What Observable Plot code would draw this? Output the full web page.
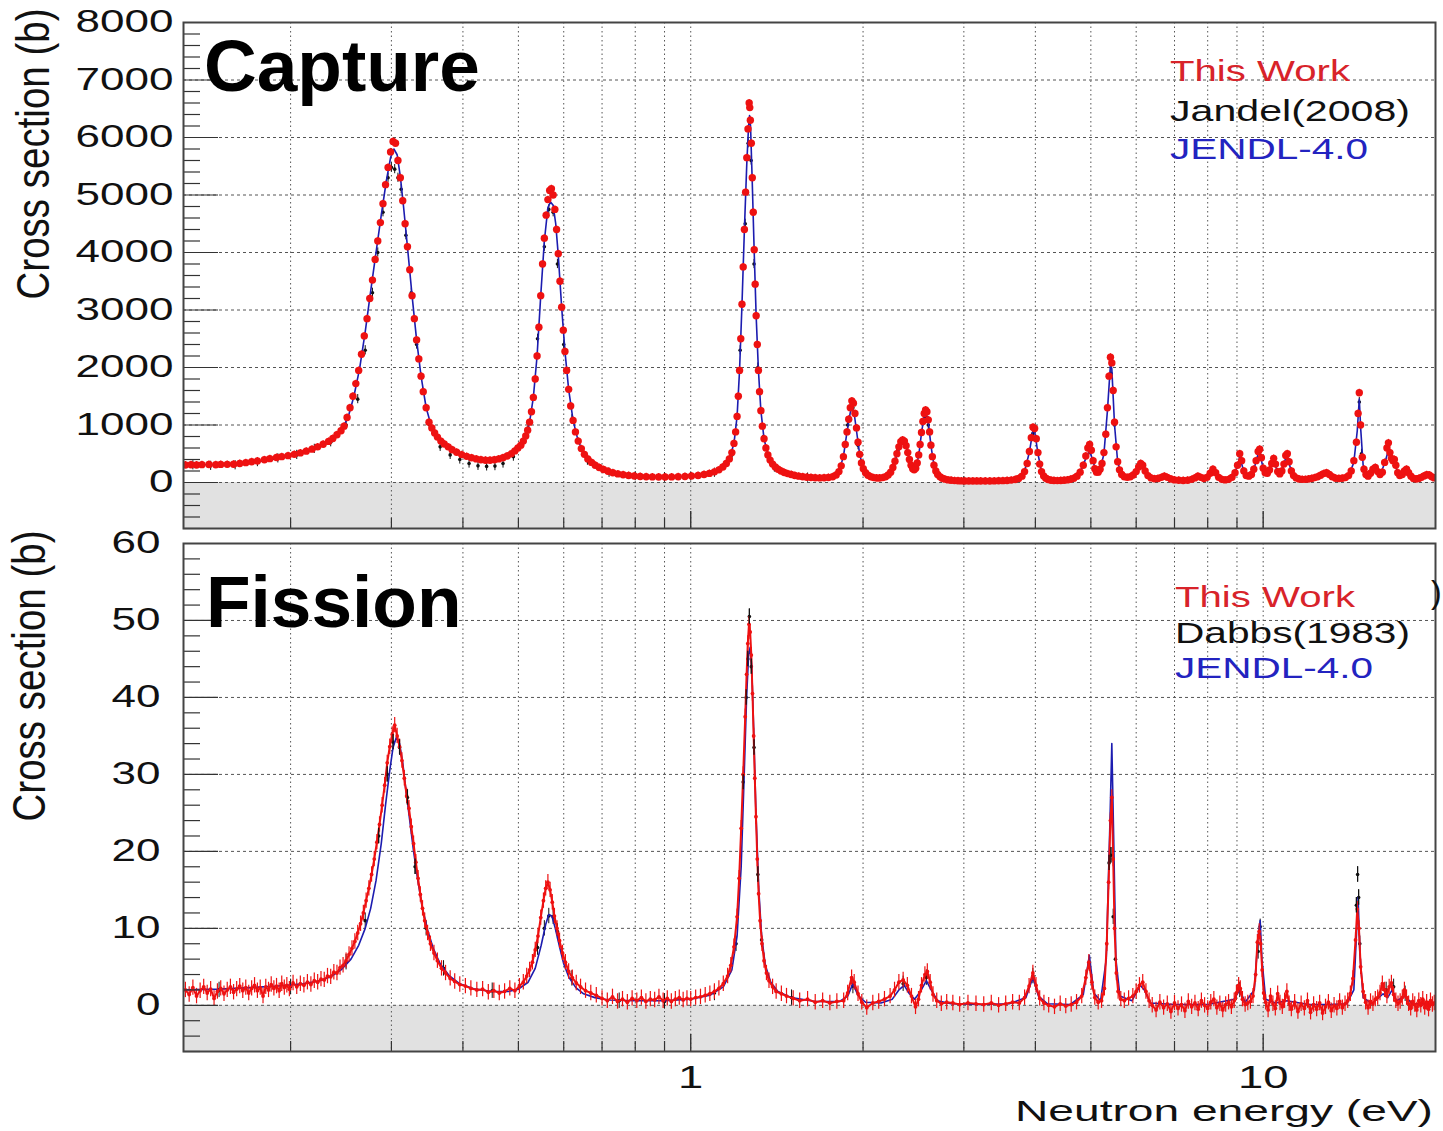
<!DOCTYPE html>
<html>
<head>
<meta charset="utf-8">
<script src="https://cdn.jsdelivr.net/npm/d3@7"></script>
<script src="https://cdn.jsdelivr.net/npm/@observablehq/plot@0.6"></script>
<style>
  html, body { margin: 0; padding: 0; background: #fff; }
  #wrap { position: relative; width: 1443px; height: 1131px; overflow: hidden; background: #fff; }
  #top, #bottom { position: absolute; left: 0; }
  #top { top: 0; }
  #bottom { top: 530px; }
  #overlay { position: absolute; left: 0; top: 0; pointer-events: none; }
</style>
</head>
<body>
<div id="wrap">
  <div id="top"></div>
  <div id="bottom"></div>
  <svg id="overlay" width="1443" height="1131"></svg>
</div>
<script>
// ---------------- axis / tick values ----------------
const xDomain = [0.13, 20];
const xGrid = [0.2, 0.3, 0.4, 0.5, 0.6, 0.7, 0.8, 0.9, 1, 2, 3, 4, 5, 6, 7, 8, 9, 10];
const xMajor = [1, 10];
const xMinor = [0.2, 0.3, 0.4, 0.5, 0.6, 0.7, 0.8, 0.9, 2, 3, 4, 5, 6, 7, 8, 9];
const xLabels = [1, 10];

const capDomain = [-800, 8000];
const capMajor = [0, 1000, 2000, 3000, 4000, 5000, 6000, 7000, 8000];
const capMinor = d3.range(-800, 8000, 200).filter(v => v % 1000 !== 0);
const capGrid = [0, 1000, 2000, 3000, 4000, 5000, 6000, 7000];

const fisDomain = [-6, 60];
const fisMajor = [0, 10, 20, 30, 40, 50, 60];
const fisMinor = d3.range(-6, 60, 2).filter(v => v % 10 !== 0);
const fisGrid = [0, 10, 20, 30, 40, 50];

// ---------------- Capture: This Work [E (eV), sigma (b)] ----------------
const capWork = [[0.131,305],[0.134,308],[0.137,304],[0.140,310],[0.144,312],[0.148,309],[0.151,315],[0.155,316],[0.159,318],[0.163,330],[0.167,345],[0.171,360],[0.175,375],[0.180,395],[0.184,415],[0.189,435],[0.193,450],[0.198,467],
[0.203,490],[0.208,515],[0.213,545],[0.218,580],[0.223,620],[0.228,665],[0.233,715],[0.237,765],[0.241,830],[0.245,900],[0.248,980],[0.251,1130],
[0.254,1300],[0.257,1500],[0.260,1720],[0.263,1950],[0.266,2230],[0.269,2550],[0.272,2850],[0.275,3200],[0.278,3520],[0.281,3880],[0.284,4200],[0.287,4520],[0.290,4850],[0.293,5180],[0.296,5480],[0.299,5750],[0.302,5930],[0.305,5900],[0.308,5600],[0.311,5300],[0.314,4900],[0.317,4500],[0.320,4100],[0.323,3700],[0.326,3250],[0.329,2850],[0.332,2480],[0.335,2150],[0.338,1850],[0.341,1580],[0.345,1300],[0.349,1050],[0.353,950],[0.357,860],[0.361,790],[0.366,720],[0.371,670],[0.377,620],[0.383,570],[0.390,525],[0.398,485],[0.406,455],[0.414,430],[0.422,410],[0.430,395],[0.438,388],[0.446,388],[0.454,395],[0.462,410],[0.470,430],[0.478,460],[0.486,500],[0.493,550],[0.499,600],[0.505,650],[0.510,720],[0.515,810],[0.519,910],[0.523,1050],[0.527,1230],[0.531,1480],[0.535,1800],[0.539,2200],[0.543,2700],[0.547,3250],[0.551,3800],[0.555,4250],[0.559,4650],[0.563,4920],[0.567,5080],[0.571,5110],[0.575,5000],[0.579,4750],[0.583,4400],[0.587,3980],[0.591,3500],[0.595,3050],[0.599,2650],[0.603,2280],[0.607,1950],[0.612,1620],[0.617,1330],[0.623,1080],[0.629,880],[0.636,720],[0.644,590],[0.652,490],[0.661,410],[0.671,350],[0.681,300],[0.692,260],[0.704,225],[0.717,195],[0.731,170],[0.746,150],[0.762,135],[0.779,122],[0.797,112],[0.816,105],[0.836,100],[0.857,97],[0.879,95],[0.902,95],[0.926,97],[0.951,100],[0.977,105],[1.003,112],[1.03,122],[1.055,138],[1.078,158],[1.10,185],[1.12,220],[1.138,270],[1.154,330],[1.168,410],[1.18,520],[1.19,680],[1.198,880],[1.205,1150],[1.211,1500],[1.217,1950],[1.223,2500],[1.229,3100],[1.235,3750],[1.241,4400],[1.247,5050],[1.253,5650],[1.259,6150],[1.265,6600],[1.268,6520],[1.271,6300],[1.276,5900],[1.281,5300],[1.286,4700],[1.291,4050],[1.296,3450],[1.301,2900],[1.307,2400],[1.313,1950],[1.319,1580],[1.326,1250],[1.334,980],[1.343,760],[1.353,600],[1.364,480],[1.376,390],[1.39,320],[1.405,270],[1.421,230],[1.438,200],[1.457,175],[1.477,155],[1.498,138],[1.52,122],[1.544,110],[1.569,100],[1.595,92],[1.622,86],[1.65,82],[1.68,80],[1.71,82],[1.74,88],[1.77,100],[1.795,130],[1.815,190],[1.832,290],[1.848,450],[1.862,660],[1.875,880],[1.888,1100],[1.90,1300],[1.912,1420],[1.924,1380],[1.936,1200],[1.948,950],[1.96,700],[1.973,490],[1.987,340],[2.002,240],[2.02,170],[2.04,125],[2.063,100],[2.087,85],[2.112,78],[2.138,78],[2.165,85],[2.19,100],[2.213,130],[2.235,180],[2.255,260],[2.274,370],[2.292,500],[2.31,620],[2.328,710],[2.345,740],[2.362,720],[2.378,640],[2.394,520],[2.41,400],[2.426,300],[2.442,240],[2.457,220],[2.472,250],[2.487,340],[2.502,480],[2.516,660],[2.53,870],[2.544,1060],[2.558,1200],[2.572,1260],[2.586,1230],[2.60,1090],[2.614,880],[2.628,650],[2.643,450],[2.66,300],[2.68,200],[2.70,140],[2.725,100],[2.75,75],[2.78,58],[2.815,45],[2.85,38],[2.89,33],[2.93,30],[2.97,28],[3.01,27],[3.06,26],[3.11,26],[3.16,25],[3.21,25],[3.27,26],[3.33,27],[3.39,28],[3.45,30],[3.51,32],[3.57,36],[3.63,42],[3.69,52],[3.74,70],[3.79,110],[3.83,190],[3.87,330],[3.905,540],[3.935,780],[3.962,960],[3.988,940],[4.015,760],[4.042,520],[4.07,320],[4.1,190],[4.135,115],[4.17,75],[4.21,52],[4.26,40],[4.31,35],[4.37,33],[4.43,34],[4.49,38],[4.55,45],[4.61,56],[4.67,75],[4.73,110],[4.79,180],[4.85,300],[4.9,460],[4.94,600],[4.975,660],[5.01,560],[5.045,380],[5.08,240],[5.115,180],[5.15,180],[5.19,230],[5.23,330],[5.27,520],[5.31,840],[5.345,1300],[5.38,1850],[5.41,2180],[5.44,2080],[5.47,1600],[5.50,1050],[5.535,620],[5.57,360],[5.61,220],[5.66,140],[5.72,100],[5.79,90],[5.86,100],[5.93,130],[6.0,190],[6.06,270],[6.11,330],[6.16,300],[6.22,200],[6.29,120],[6.37,80],[6.46,65],[6.55,70],[6.64,90],[6.72,110],[6.8,90],[6.9,60],[7.0,45],[7.12,38],[7.25,36],[7.38,40],[7.5,55],[7.6,80],[7.69,110],[7.78,90],[7.88,70],[7.98,90],[8.08,160],[8.17,230],[8.26,170],[8.36,90],[8.47,55],[8.58,45],[8.7,55],[8.82,90],[8.93,170],[9.02,300],[9.1,500],[9.17,380],[9.25,200],[9.34,120],[9.44,110],[9.54,140],[9.63,230],[9.72,380],[9.8,540],[9.86,580],[9.93,430],[10.0,250],[10.08,170],[10.17,160],[10.26,220],[10.35,330],[10.43,420],[10.51,320],[10.6,190],[10.69,150],[10.78,200],[10.87,320],[10.95,470],[11.02,500],[11.1,360],[11.2,200],[11.3,120],[11.42,80],[11.55,60],[11.7,55],[11.85,55],[12.0,60],[12.15,70],[12.3,85],[12.45,100],[12.6,125],[12.75,155],[12.9,170],[13.05,140],[13.2,100],[13.38,75],[13.56,70],[13.74,75],[13.92,85],[14.1,120],[14.25,200],[14.4,380],[14.55,700],[14.65,1200],[14.72,1560],[14.8,1000],[14.9,440],[15.0,230],[15.12,140],[15.25,110],[15.4,160],[15.55,230],[15.7,260],[15.85,190],[16.0,140],[16.15,180],[16.3,350],[16.45,600],[16.55,690],[16.65,520],[16.75,420],[16.85,380],[16.95,400],[17.05,300],[17.18,170],[17.32,120],[17.5,140],[17.65,200],[17.8,230],[17.95,170],[18.12,110],[18.3,70],[18.5,60],[18.7,70],[18.9,90],[19.1,115],[19.3,135],[19.5,130],[19.7,100],[19.9,80]];
const capWorkErr = 60;

// ---------------- Capture: JENDL-4.0 ----------------
const capJendl = [[0.13,310],[0.15,312],[0.17,340],[0.19,420],[0.205,490],[0.22,590],[0.235,730],[0.245,900],[0.252,1130],[0.258,1500],[0.264,1980],[0.27,2620],[0.276,3330],[0.282,4000],[0.288,4650],[0.294,5250],[0.299,5650],[0.303,5800],[0.307,5700],[0.311,5320],[0.315,4800],[0.32,4100],[0.326,3250],[0.332,2480],[0.338,1850],[0.345,1300],[0.353,950],[0.361,790],[0.371,670],[0.383,570],[0.398,485],[0.414,430],[0.43,395],[0.446,388],[0.462,410],[0.478,460],[0.493,550],[0.505,650],[0.515,810],[0.523,1050],[0.531,1480],[0.539,2200],[0.547,3250],[0.555,4200],[0.563,4780],[0.569,4880],[0.575,4820],[0.581,4500],[0.587,3950],[0.595,3050],[0.603,2280],[0.612,1620],[0.623,1080],[0.636,720],[0.652,490],[0.671,350],[0.692,260],[0.717,195],[0.746,150],[0.779,122],[0.816,105],[0.857,97],[0.902,95],[0.951,100],[1.003,112],[1.055,138],[1.10,185],[1.138,270],[1.168,410],[1.19,680],[1.205,1150],[1.217,1950],[1.229,3100],[1.241,4400],[1.253,5550],[1.262,6200],[1.267,6380],[1.272,6200],[1.281,5200],[1.291,4000],[1.301,2900],[1.313,1950],[1.326,1250],[1.343,760],[1.364,480],[1.39,320],[1.421,230],[1.457,175],[1.498,138],[1.544,110],[1.595,92],[1.65,82],[1.71,82],[1.77,100],[1.815,190],[1.848,450],[1.875,880],[1.90,1220],[1.914,1300],[1.93,1200],[1.948,900],[1.973,490],[2.002,240],[2.04,125],[2.087,85],[2.138,78],[2.19,100],[2.235,180],[2.274,370],[2.31,600],[2.345,710],[2.378,620],[2.41,390],[2.442,240],[2.472,250],[2.502,470],[2.53,860],[2.558,1170],[2.575,1230],[2.60,1060],[2.628,640],[2.66,300],[2.70,140],[2.75,75],[2.85,38],[3.0,27],[3.2,25],[3.45,30],[3.63,42],[3.74,70],[3.83,190],[3.905,530],[3.96,900],[3.99,880],[4.042,500],[4.1,190],[4.17,75],[4.31,35],[4.49,38],[4.67,75],[4.79,170],[4.9,420],[4.975,560],[5.045,360],[5.115,180],[5.19,220],[5.27,500],[5.345,1250],[5.41,2050],[5.44,1980],[5.5,1000],[5.57,350],[5.66,140],[5.79,90],[5.93,130],[6.06,260],[6.12,310],[6.22,190],[6.37,80],[6.55,70],[6.72,100],[6.9,60],[7.25,36],[7.5,50],[7.69,95],[7.88,65],[8.17,200],[8.36,85],[8.58,45],[8.82,85],[9.02,280],[9.1,450],[9.25,190],[9.44,105],[9.63,220],[9.8,500],[9.86,530],[10.0,240],[10.17,150],[10.35,310],[10.43,380],[10.6,180],[10.78,190],[10.95,430],[11.02,450],[11.2,190],[11.42,80],[11.85,55],[12.3,80],[12.9,150],[13.2,95],[13.74,72],[14.1,110],[14.4,350],[14.6,900],[14.72,1450],[14.8,950],[14.95,300],[15.25,110],[15.7,240],[16.0,135],[16.3,330],[16.55,560],[16.75,400],[16.95,380],[17.18,160],[17.5,130],[17.8,210],[18.12,100],[18.5,58],[19.1,110],[19.5,125],[20,75]];

// ---------------- Capture: Jandel (2008) ----------------
const capJandel = [[0.135,300],[0.145,290],[0.16,300],[0.175,355],[0.19,420],[0.205,480],[0.22,585],[0.235,700],[0.25,1000],[0.262,1450],[0.27,2300],[0.278,3300],[0.284,4000],[0.29,4700],[0.296,5300],[0.300,5480],[0.304,5450],[0.308,5300],[0.312,5100],[0.318,4300],[0.325,3300],[0.332,2400],[0.34,1600],[0.35,1000],[0.365,620],[0.38,480],[0.395,400],[0.41,330],[0.425,290],[0.44,280],[0.455,285],[0.47,330],[0.49,450],[0.52,950],[0.54,2500],[0.555,4100],[0.565,4750],[0.575,4700],[0.585,3800],[0.60,2400],[0.62,1100],[0.66,380],[0.72,170],[0.8,110],[0.9,90],[1.0,105],[1.1,170],[1.18,480],[1.22,2300],[1.245,4500],[1.26,5900],[1.275,5600],[1.29,3800],[1.31,2000],[1.34,800],[1.4,260],[1.6,85],[1.88,1000],[1.92,1300],[1.96,650],[2.3,560],[2.36,700],[2.57,1150],[2.6,1000],[3.0,25],[3.96,850],[4.97,560],[5.42,1900],[5.5,1000],[6.12,300],[9.1,460],[9.86,520],[11.0,460],[14.72,1400],[14.85,500],[16.55,620],[17.0,350]];
const capJandelErr = 80;

// ---------------- Fission: This Work ----------------
const fisWork = [[0.131,2.0],[0.133,1.4],[0.135,2.3],[0.137,1.2],[0.139,1.9],[0.141,2.4],[0.143,1.6],[0.145,2.1],[0.147,0.9],[0.149,1.8],[0.151,2.2],[0.153,1.5],[0.155,2.0],[0.157,2.4],[0.159,1.7],[0.161,2.1],[0.163,2.5],[0.165,1.9],[0.167,2.3],[0.169,1.6],[0.171,2.2],[0.173,2.6],[0.175,1.9],[0.177,2.3],[0.179,1.2],[0.181,2.4],[0.183,2.0],[0.185,2.7],[0.187,2.2],[0.189,2.5],[0.191,1.9],[0.193,2.8],[0.195,2.3],[0.197,2.6],[0.199,2.1],[0.202,2.9],[0.205,2.4],[0.208,2.8],[0.211,2.6],[0.214,3.0],[0.217,2.7],[0.220,3.2],[0.223,3.0],[0.226,3.4],[0.229,3.3],[0.232,3.8],[0.235,3.7],[0.238,4.3],[0.241,4.2],[0.244,4.9],[0.247,5.2],[0.250,5.8],[0.253,6.6],[0.256,7.4],[0.259,8.3],[0.262,9.4],[0.265,10.6],[0.268,12.0],[0.271,13.6],[0.274,15.2],[0.277,17.0],[0.280,19.0],[0.283,21.2],[0.286,23.5],[0.289,26.0],[0.292,28.6],[0.295,31.5],[0.298,33.6],[0.301,35.2],[0.304,36.4],[0.307,35.0],[0.310,33.6],[0.313,31.8],[0.316,29.5],[0.319,27.2],[0.322,25.6],[0.325,23.2],[0.328,21.0],[0.331,18.6],[0.334,16.5],[0.337,14.4],[0.340,12.6],[0.343,11.0],[0.347,9.4],[0.351,8.0],[0.356,6.8],[0.361,5.8],[0.367,4.8],[0.373,4.2],[0.380,3.5],[0.387,3.1],[0.395,2.7],[0.404,2.5],[0.413,2.2],[0.423,2.0],[0.433,2.1],[0.443,1.7],[0.453,1.9],[0.463,1.6],[0.473,1.8],[0.483,2.2],[0.493,1.9],[0.502,2.5],[0.510,3.0],[0.517,3.8],[0.523,4.6],[0.529,5.6],[0.535,7.2],[0.541,9.0],[0.547,11.4],[0.553,13.6],[0.558,15.2],[0.563,16.0],[0.568,15.0],[0.573,13.4],[0.578,11.6],[0.584,10.0],[0.590,8.4],[0.597,6.8],[0.604,5.6],[0.612,4.4],[0.621,3.6],[0.631,2.9],[0.642,2.4],[0.655,1.9],[0.669,1.6],[0.684,1.3],[0.70,0.9],[0.715,0.6],[0.73,1.1],[0.745,0.5],[0.76,0.8],[0.775,0.4],[0.79,0.9],[0.805,0.6],[0.82,1.0],[0.835,0.5],[0.85,0.8],[0.865,0.7],[0.88,1.1],[0.895,0.6],[0.91,0.9],[0.925,0.5],[0.94,0.8],[0.955,1.0],[0.97,0.7],[0.985,0.9],[1.00,0.8],[1.02,1.0],[1.04,1.1],[1.06,1.3],[1.08,1.5],[1.10,1.8],[1.12,2.2],[1.14,2.8],[1.16,3.8],[1.175,5.2],[1.19,7.6],[1.205,11.5],[1.215,16.5],[1.225,23.0],[1.235,30.0],[1.245,37.5],[1.252,43.0],[1.258,47.0],[1.264,49.5],[1.27,48.5],[1.276,45.5],[1.282,40.5],[1.288,35.0],[1.294,29.5],[1.30,24.5],[1.307,19.0],[1.314,14.5],[1.322,11.0],[1.332,8.0],[1.343,5.8],[1.356,4.2],[1.37,3.2],[1.39,2.4],[1.41,1.8],[1.44,1.5],[1.47,1.2],[1.51,0.9],[1.55,0.6],[1.60,0.8],[1.65,0.4],[1.70,0.6],[1.75,0.3],[1.80,0.5],[1.85,0.6],[1.88,1.6],[1.91,3.6],[1.93,3.0],[1.96,1.5],[1.99,0.4],[2.03,-0.3],[2.08,0.3],[2.13,0.5],[2.18,0.8],[2.23,1.2],[2.27,2.0],[2.31,3.0],[2.35,3.3],[2.39,2.6],[2.43,1.2],[2.47,-0.2],[2.50,0.8],[2.53,2.6],[2.565,4.0],[2.59,4.4],[2.62,3.0],[2.65,1.4],[2.69,0.6],[2.74,0.2],[2.80,0.4],[2.87,0.3],[2.95,0.1],[3.05,0.3],[3.15,0.2],[3.25,0.1],[3.35,0.3],[3.45,0.0],[3.55,0.2],[3.65,0.4],[3.75,0.3],[3.83,1.0],[3.90,2.5],[3.96,4.2],[4.01,2.6],[4.07,0.9],[4.14,0.3],[4.22,0.0],[4.32,-0.2],[4.42,0.2],[4.52,-0.1],[4.62,0.1],[4.72,0.4],[4.82,1.2],[4.90,3.6],[4.96,5.6],[5.02,3.0],[5.08,1.0],[5.15,0.4],[5.22,0.6],[5.28,2.2],[5.33,8.0],[5.37,16.0],[5.41,24.0],[5.44,27.0],[5.47,19.0],[5.50,10.0],[5.54,4.2],[5.58,1.8],[5.64,0.8],[5.72,0.6],[5.82,0.9],[5.92,1.2],[6.00,1.8],[6.08,2.6],[6.16,3.0],[6.24,1.8],[6.32,0.6],[6.40,0.0],[6.50,-0.6],[6.60,0.4],[6.70,-0.3],[6.80,0.2],[6.90,-0.8],[7.00,0.3],[7.10,-0.4],[7.20,0.1],[7.30,-0.7],[7.40,0.5],[7.50,-0.2],[7.60,0.3],[7.70,-0.5],[7.80,0.6],[7.90,0.0],[8.00,-0.4],[8.10,0.4],[8.20,0.8],[8.30,-0.3],[8.40,0.2],[8.50,-0.6],[8.60,0.1],[8.70,0.4],[8.80,-0.2],[8.90,0.6],[8.98,1.6],[9.06,2.6],[9.12,2.2],[9.20,0.8],[9.30,0.1],[9.40,0.3],[9.50,0.5],[9.60,1.2],[9.70,4.0],[9.77,8.2],[9.84,9.6],[9.90,8.0],[9.96,4.6],[10.02,1.6],[10.10,0.4],[10.2,-0.6],[10.3,1.2],[10.4,0.2],[10.5,-0.4],[10.6,1.5],[10.7,0.3],[10.8,-0.2],[10.9,0.6],[11.0,1.8],[11.1,0.2],[11.2,-0.5],[11.35,0.4],[11.5,-0.8],[11.65,0.2],[11.8,-0.4],[11.95,0.6],[12.1,-0.9],[12.25,0.1],[12.4,-0.5],[12.55,0.3],[12.7,-1.0],[12.85,-0.2],[13.0,0.4],[13.15,-0.7],[13.3,0.0],[13.45,-0.4],[13.6,0.5],[13.75,-0.3],[13.9,0.2],[14.05,0.6],[14.2,1.5],[14.35,3.5],[14.5,8.5],[14.6,12.5],[14.7,10.0],[14.8,5.0],[14.95,1.8],[15.1,0.4],[15.25,-0.3],[15.4,0.5],[15.55,0.2],[15.7,0.8],[15.85,1.0],[16.0,1.6],[16.15,2.8],[16.3,2.0],[16.45,1.2],[16.6,2.4],[16.75,2.9],[16.9,1.4],[17.05,0.6],[17.2,0.2],[17.35,0.5],[17.5,1.0],[17.65,2.0],[17.8,1.0],[17.95,0.2],[18.1,-0.4],[18.25,0.5],[18.4,0.1],[18.55,-0.6],[18.7,0.6],[18.85,0.0],[19.0,0.8],[19.15,-0.3],[19.3,0.4],[19.45,-0.5],[19.6,0.6],[19.75,0.1],[19.9,0.3]];
const fisWorkErr = 1.0;

// ---------------- Fission: JENDL-4.0 ----------------
const fisJendl = [[0.13,2.0],[0.15,2.1],[0.17,2.3],[0.19,2.5],[0.21,2.8],[0.225,3.2],[0.235,3.7],[0.245,4.6],[0.255,6.0],[0.263,7.8],[0.27,10.0],[0.276,12.6],[0.282,16.2],[0.288,21.0],[0.293,26.0],[0.298,30.5],[0.302,33.5],[0.306,34.8],[0.31,34.0],[0.314,31.5],[0.318,28.0],[0.323,24.0],[0.328,20.0],[0.334,16.0],[0.34,12.6],[0.347,9.8],[0.355,7.4],[0.365,5.4],[0.378,3.9],[0.395,2.8],[0.42,2.1],[0.45,1.8],[0.48,1.8],[0.50,2.1],[0.52,3.0],[0.535,4.8],[0.548,7.8],[0.558,10.5],[0.565,11.8],[0.572,11.6],[0.58,10.0],[0.59,7.6],[0.60,5.4],[0.613,3.6],[0.63,2.3],[0.65,1.5],[0.68,1.0],[0.72,0.7],[0.80,0.6],[0.90,0.6],[1.0,0.8],[1.08,1.3],[1.14,2.4],[1.18,4.6],[1.205,9.0],[1.225,18.0],[1.24,30.0],[1.252,40.0],[1.262,45.5],[1.27,46.5],[1.278,44.0],[1.288,36.0],[1.30,25.0],[1.315,15.0],[1.33,9.0],[1.35,5.2],[1.38,3.0],[1.42,1.8],[1.50,1.0],[1.65,0.5],[1.82,0.5],[1.88,1.2],[1.92,2.8],[1.96,1.3],[2.02,0.4],[2.15,0.3],[2.25,0.8],[2.31,2.0],[2.36,2.6],[2.41,1.5],[2.46,0.8],[2.52,1.8],[2.58,3.2],[2.63,2.0],[2.70,0.6],[2.85,0.2],[3.2,0.1],[3.6,0.2],[3.85,1.0],[3.96,3.6],[4.05,1.2],[4.2,0.2],[4.6,0.1],[4.85,1.4],[4.97,6.5],[5.06,1.6],[5.2,0.6],[5.32,6.0],[5.40,24.0],[5.44,34.0],[5.48,22.0],[5.53,6.0],[5.62,1.2],[5.9,0.6],[6.1,2.6],[6.2,2.0],[6.35,0.3],[7.0,0.1],[8.0,0.1],[8.9,0.8],[9.1,2.0],[9.3,0.4],[9.65,2.0],[9.8,9.0],[9.88,11.0],[9.95,6.0],[10.1,0.8],[10.5,0.3],[11.0,0.6],[12.0,0.1],[13.0,0.1],[14.0,0.2],[14.4,2.0],[14.55,9.0],[14.65,14.0],[14.75,7.0],[14.95,1.0],[15.5,0.2],[16.2,1.5],[16.5,1.0],[16.8,2.0],[17.1,0.6],[17.7,1.2],[18.2,0.2],[20,0.2]];

// ---------------- Fission: Dabbs (1983) ----------------
const fisDabbs = [[0.15,2.0],[0.2,2.4],[0.25,5.6],[0.27,11],[0.285,22],[0.295,30],[0.302,34.2],[0.31,33.5],[0.32,27],[0.33,18],[0.345,10],[0.37,4.8],[0.45,1.9],[0.54,7.5],[0.555,10],[0.565,11.6],[0.575,11.5],[0.585,9.6],[0.62,3.5],[0.75,0.6],[0.9,0.5],[1.1,1.6],[1.2,8],[1.235,29],[1.25,40],[1.258,45],[1.266,50.5],[1.276,44],[1.29,33.5],[1.31,17],[1.33,8.5],[1.5,1.0],[1.92,2.5],[2.35,2.8],[2.58,3.6],[3.96,3.8],[4.97,5.4],[5.38,18.5],[5.42,19.5],[5.47,11.5],[5.52,6],[9.1,2.0],[9.8,7.0],[9.88,10.2],[14.55,13],[14.62,17.0],[14.68,14],[14.75,8],[16.4,2.0],[16.9,2.4],[17.7,1.5]];
const fisDabbsErr = 1.0;

// ---------------- styling ----------------
const RED = "#ee1111", BLUE = "#1c1cb0", BLACK = "#111111";
const FONT = "Liberation Sans, Arial, Helvetica, sans-serif";
const STRETCH = 1.42;

function stretchText(svg) {
  svg.querySelectorAll('g[aria-label="y-axis tick label"] text, g[aria-label="x-axis tick label"] text').forEach(t => {
    const tr = t.getAttribute("transform") || "";
    t.setAttribute("transform", tr + ` scale(${STRETCH},1)`);
  });
}

function panel(cfg) {
  const ex = d => d[0], ey = d => d[1];
  const marks = [
    Plot.rect([cfg.yDomain], {x1: () => xDomain[0], x2: () => xDomain[1], y1: d => d[0], y2: () => 0, fill: "#e1e1e1"}),
    Plot.ruleX(xGrid, {stroke: "#555", strokeWidth: 1, strokeDasharray: "1.5,3"}),
    Plot.ruleY(cfg.grid, {stroke: "#555", strokeWidth: 1, strokeDasharray: "3,3"}),
    // experiment (black) error bars and points
    Plot.ruleX(cfg.exp, {x: ex, y1: d => d[1] - cfg.expErr, y2: d => d[1] + cfg.expErr, stroke: BLACK, strokeWidth: 1, clip: true}),
    Plot.dot(cfg.exp, {x: ex, y: ey, r: 1.8, fill: BLACK, clip: true}),
    // evaluation line
    Plot.line(cfg.jendl, {x: ex, y: ey, stroke: BLUE, strokeWidth: 1.6, clip: true}),
    // this work
    Plot.ruleX(cfg.work, {x: ex, y1: d => d[1] - cfg.workErr, y2: d => d[1] + cfg.workErr, stroke: RED, strokeWidth: 1.2, clip: true}),
  ];
  if (cfg.workLine) marks.push(Plot.line(cfg.work, {x: ex, y: ey, stroke: RED, strokeWidth: cfg.workLine, clip: true}));
  marks.push(Plot.dot(cfg.work, {x: ex, y: ey, r: cfg.workR, fill: RED, clip: true}));
  if (cfg.expOnTop) marks.push(Plot.ruleX(cfg.expOnTop, {x: ex, y1: d => d[1] - cfg.expErr, y2: d => d[1] + cfg.expErr, stroke: BLACK, strokeWidth: 1.2, clip: true}));
  marks.push(
    Plot.axisY({ticks: cfg.major, anchor: "left", tickSize: -35, fill: "none", label: null, stroke: "#333", strokeWidth: 1.2}),
    Plot.axisY({ticks: cfg.minor, anchor: "left", tickSize: -17, fill: "none", label: null, stroke: "#333", strokeWidth: 1.2}),
    Plot.axisY({ticks: cfg.major, anchor: "left", tickSize: 0, tickPadding: cfg.yPad, fontSize: 31, fill: "#111", label: null, tickFormat: d => String(d)}),
    Plot.axisX({ticks: xMajor, anchor: "bottom", tickSize: -17, fill: "none", label: null, stroke: "#333", strokeWidth: 1.4}),
    Plot.axisX({ticks: xMinor, anchor: "bottom", tickSize: -10, fill: "none", label: null, stroke: "#333", strokeWidth: 1.2})
  );
  if (cfg.xLabels) marks.push(Plot.axisX({ticks: xLabels, anchor: "bottom", tickSize: 0, tickPadding: 14, fontSize: 32, fill: "#111", label: null, tickFormat: d => String(d)}));
  marks.push(Plot.frame({stroke: "#444", strokeWidth: 2}));
  const svg = Plot.plot({
    width: 1443, height: cfg.height,
    marginLeft: 183, marginRight: 8, marginTop: cfg.marginTop, marginBottom: cfg.marginBottom,
    x: {type: "log", domain: xDomain},
    y: {domain: cfg.yDomain},
    style: {fontFamily: FONT, background: "white", color: "#111", overflow: "visible"},
    marks
  });
  stretchText(svg);
  return svg;
}

document.getElementById("top").appendChild(panel({
  height: 540, marginTop: 22, marginBottom: 12, yDomain: capDomain,
  major: capMajor, minor: capMinor, grid: capGrid, yPad: 10,
  work: capWork, workErr: capWorkErr, workR: 3.7, workLine: 0,
  jendl: capJendl, exp: capJandel, expErr: capJandelErr
}));

document.getElementById("bottom").appendChild(panel({
  height: 601, marginTop: 13, marginBottom: 80, yDomain: fisDomain,
  major: fisMajor, minor: fisMinor, grid: fisGrid, yPad: 23,
  work: fisWork, workErr: fisWorkErr, workR: 1.9, workLine: 2,
  jendl: fisJendl, exp: fisDabbs, expErr: fisDabbsErr,
  expOnTop: fisDabbs.filter(d => d[1] > 12),
  xLabels: true
}));

// ---------------- annotations (titles, legends, axis titles) ----------------
const ov = d3.select("#overlay").style("font-family", FONT);
function label(txt, x, y, opts = {}) {
  const t = ov.append("text").attr("x", x).attr("y", y).text(txt)
    .attr("font-size", opts.size || 30).attr("fill", opts.fill || "#111")
    .attr("font-weight", opts.weight || "normal");
  if (opts.len) t.attr("textLength", opts.len).attr("lengthAdjust", "spacingAndGlyphs");
  return t;
}
// panel titles
label("Capture", 204, 91, {size: 73, weight: "bold", fill: "#000"});
label("Fission", 206, 627, {size: 73, weight: "bold", fill: "#000"});
// legends
label("This Work", 1170, 81, {fill: "#d8232a", len: 180});
label("Jandel(2008)", 1170, 121, {fill: "#111", len: 240});
label("JENDL-4.0", 1170, 159, {fill: "#2323c0", len: 198});
label("This Work", 1175, 607, {fill: "#d8232a", len: 180});
label("Dabbs(1983)", 1175, 643, {fill: "#111", len: 235});
label("JENDL-4.0", 1175, 678, {fill: "#2323c0", len: 198});
// stray glyph at right edge
label(")", 1431, 603, {size: 32, fill: "#111"});
// axis titles
label("Neutron energy (eV)", 1015, 1121, {size: 30, fill: "#111", len: 418});
ov.append("text").text("Cross section (b)")
  .attr("transform", "translate(49,154) scale(1.2,1) rotate(-90)")
  .attr("text-anchor", "middle").attr("font-size", 38.5).attr("fill", "#111");
ov.append("text").text("Cross section (b)")
  .attr("transform", "translate(45,676) scale(1.2,1) rotate(-90)")
  .attr("text-anchor", "middle").attr("font-size", 38.5).attr("fill", "#111");
</script>
</body>
</html>
